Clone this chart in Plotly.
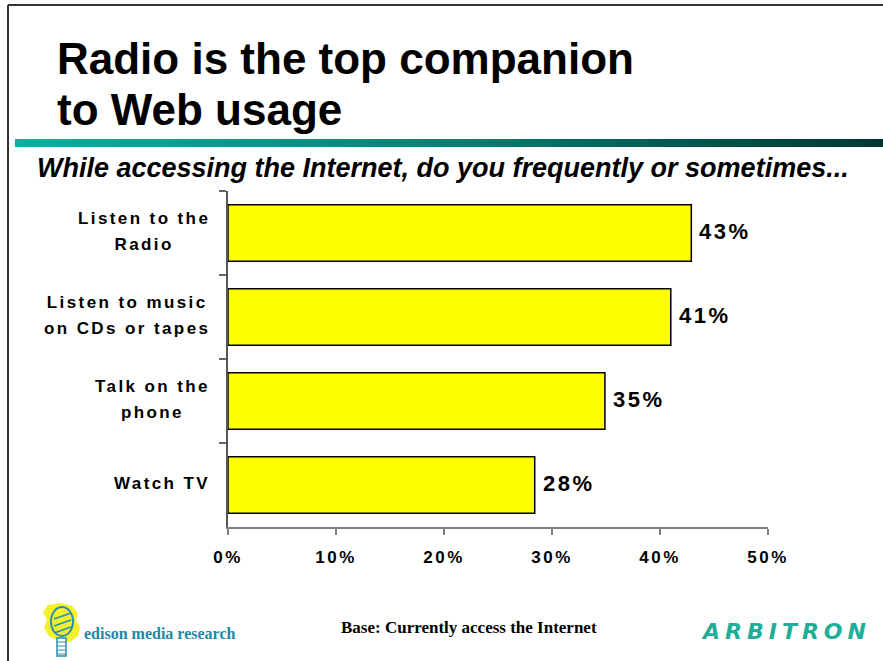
import plotly.graph_objects as go

# ---------------- data ----------------
categories = ["Listen to the<br>Radio", "Listen to music<br>on CDs or tapes",
              "Talk on the<br>phone", "Watch TV"]
values = [42.9, 41.0, 34.9, 28.4]
value_labels = ["43%", "41%", "35%", "28%"]
x_ticks = [0, 10, 20, 30, 40, 50]
x_tick_labels = ["0%", "10%", "20%", "30%", "40%", "50%"]

title_lines = ["Radio is the top companion", "to Web usage"]
subtitle = "While accessing the Internet, do you frequently or sometimes..."
base_note = "Base: Currently access the Internet"
left_logo = "edison media research"
right_logo = "ARBITRON"

# ---------------- geometry helpers ----------------
W, H = 883, 661
L, R, T, B = 228, 115, 191, 134
PW, PH = W - L - R, H - T - B


def px(x):
    return (x - L) / PW


def py(y):
    return (H - B - y) / PH


ARIAL = "Liberation Sans, Arial, sans-serif"
TIMES = "Liberation Serif, Times New Roman, serif"


def spaced(t, ls, size=None):
    st = f"letter-spacing:{ls}px"
    if size:
        st += f";font-size:{size}px"
    return "<br>".join(f"<span style='{st}'>{ln}</span>" for ln in t.split("<br>"))


fig = go.Figure()
fig.add_trace(go.Bar(
    x=values, y=categories, orientation="h", width=0.67,
    marker=dict(color="#FFFF00", line=dict(color="#000000", width=1.5)),
    hoverinfo="skip",
))

annotations = []
# category labels (centered lines, right-aligned block)
for c in categories:
    annotations.append(dict(
        x=px(212), xref="paper", y=c, yref="y", xanchor="right", yanchor="middle",
        text=spaced(c, 2.4, 17), align="center", showarrow=False, yshift=2,
        font=dict(family=ARIAL, size=20, color="#000000", weight="bold"),
    ))
# value labels
for c, v, t in zip(categories, values, value_labels):
    annotations.append(dict(
        x=v, xref="x", y=c, yref="y", xanchor="left", yanchor="middle",
        text=spaced(t, 2.5), showarrow=False, xshift=6, yshift=2,
        font=dict(family=ARIAL, size=22, color="#000000", weight="bold"),
    ))
# titles
for ln, yc in zip(title_lines, [58, 109]):
    annotations.append(dict(
        x=px(55), xref="paper", y=py(yc), yref="paper", xanchor="left", yanchor="middle",
        text=ln, showarrow=False,
        font=dict(family=ARIAL, size=44, color="#000000", weight="bold"),
    ))
annotations.append(dict(
    x=px(35), xref="paper", y=py(168), yref="paper", xanchor="left", yanchor="middle",
    text=subtitle, showarrow=False,
    font=dict(family=ARIAL, size=27, color="#000000", weight="bold", style="italic"),
))
annotations.append(dict(
    x=px(469), xref="paper", y=py(627), yref="paper", xanchor="center", yanchor="middle",
    text=base_note, showarrow=False,
    font=dict(family=TIMES, size=17, color="#000000", weight="bold"),
))
annotations.append(dict(
    x=px(82), xref="paper", y=py(633), yref="paper", xanchor="left", yanchor="middle",
    text=left_logo, showarrow=False,
    font=dict(family=TIMES, size=16, color="#1a8aa8", weight="bold"),
))
annotations.append(dict(
    x=px(699), xref="paper", y=py(631), yref="paper", xanchor="left", yanchor="middle",
    text=spaced(right_logo, 5), showarrow=False,
    font=dict(family="DejaVu Sans, sans-serif", size=22, color="#1fae98",
              weight="bold", style="italic"),
))

shapes = []
# slide border
shapes.append(dict(type="line", xref="paper", yref="paper", x0=px(8), x1=px(883),
                   y0=py(5), y1=py(5), line=dict(color="#333333", width=2)))
shapes.append(dict(type="line", xref="paper", yref="paper", x0=px(8), x1=px(8),
                   y0=py(5), y1=py(661), line=dict(color="#333333", width=2)))
# gradient band
stops = [(0.0, (0, 178, 160)), (0.5, (0, 130, 115)), (1.0, (0, 55, 48))]
n = 110
x_start, x_end = 15, 883
for i in range(n):
    f = (i + 0.5) / n
    for (a, ca), (b, cb) in zip(stops[:-1], stops[1:]):
        if a <= f <= b:
            t = (f - a) / (b - a)
            col = tuple(round(ca[k] + (cb[k] - ca[k]) * t) for k in range(3))
            break
    x0 = x_start + (x_end - x_start) * i / n
    x1 = min(x_end, x_start + (x_end - x_start) * (i + 1) / n + 3)
    shapes.append(dict(type="rect", xref="paper", yref="paper", x0=px(x0), x1=px(x1),
                       y0=py(147), y1=py(139), line=dict(width=0),
                       fillcolor=f"rgb{col}", layer="below"))


# edison logo (decorative)
def path(pts):
    return "M " + " L ".join(f"{px(a):.5f},{py(b):.5f}" for a, b in pts) + " Z"


shapes.append(dict(type="path", xref="paper", yref="paper",
                   path=path([(48, 605), (60, 603), (72, 606), (78, 613), (76, 620),
                              (80, 627), (78, 636), (70, 642), (58, 641), (49, 636),
                              (44, 628), (47, 620), (43, 612)]),
                   fillcolor="#f4f02a", line=dict(width=0)))
shapes.append(dict(type="circle", xref="paper", yref="paper",
                   x0=px(51), x1=px(73), y0=py(636), y1=py(607),
                   line=dict(color="#2a8fb0", width=2)))
for yy in (615, 622, 629):
    shapes.append(dict(type="line", xref="paper", yref="paper",
                       x0=px(54), x1=px(71), y0=py(yy + 4), y1=py(yy - 2),
                       line=dict(color="#2a8fb0", width=1.5)))
shapes.append(dict(type="rect", xref="paper", yref="paper",
                   x0=px(57), x1=px(66), y0=py(656), y1=py(638),
                   line=dict(color="#2a8fb0", width=1.5), fillcolor="white"))
for yy in (642, 646, 650, 654):
    shapes.append(dict(type="line", xref="paper", yref="paper",
                       x0=px(57), x1=px(66), y0=py(yy), y1=py(yy),
                       line=dict(color="#2a8fb0", width=1)))

fig.update_layout(
    width=W, height=H,
    margin=dict(l=L, r=R, t=T, b=B, pad=0),
    paper_bgcolor="white", plot_bgcolor="white",
    showlegend=False,
    annotations=annotations,
    shapes=shapes,
    xaxis=dict(
        range=[0, 50], tickvals=x_ticks,
        ticktext=[spaced(t, 2.5) for t in x_tick_labels],
        showgrid=False, zeroline=False, showline=True, linecolor="#808080", linewidth=2,
        ticks="outside", ticklen=6, tickcolor="#808080", tickwidth=1.5,
        ticklabelstandoff=8,
        tickfont=dict(family=ARIAL, size=17, color="#000000", weight="bold"),
        fixedrange=True,
    ),
    yaxis=dict(
        type="category", categoryorder="array", categoryarray=categories,
        autorange="reversed", showticklabels=False, tickson="boundaries",
        showgrid=False, zeroline=False, showline=True, linecolor="#555555", linewidth=1.5,
        ticks="outside", ticklen=7, tickcolor="#666666", tickwidth=1.5,
        fixedrange=True,
    ),
)

fig.write_html("out.html", config={"displayModeBar": False},
               post_script="document.body.style.margin='0';")
